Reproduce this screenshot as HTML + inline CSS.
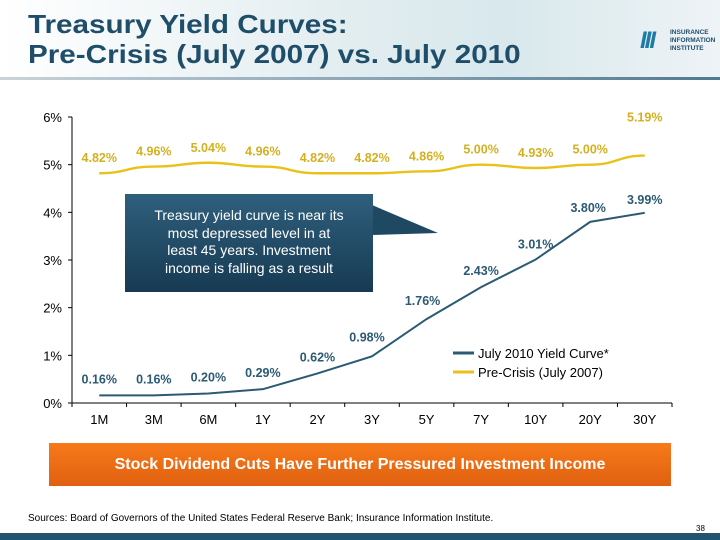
<!DOCTYPE html>
<html><head><meta charset="utf-8"><style>
body{margin:0;width:720px;height:540px;overflow:hidden;background:#fff;font-family:"Liberation Sans",sans-serif;position:relative}
.abs{position:absolute}
</style></head><body>
<div class="abs" style="left:0;top:0;width:720px;height:80px;background:linear-gradient(90deg,#fff 0%,#e4eef1 45%,#d8e8ec 70%,#eef3f6 100%)"></div>
<div class="abs" style="left:28px;top:9px;font-size:26px;font-weight:bold;color:#1f4e6b;line-height:30px;transform:scaleX(1.14);transform-origin:0 0;white-space:nowrap">Treasury Yield Curves:<br>Pre-Crisis (July 2007) vs. July 2010</div>
<div class="abs" style="left:0;top:77px;width:720px;height:3px;background:linear-gradient(90deg,#c9d3da,#4f7a92)"></div>
<div class="abs" style="left:640px;top:28px;width:76px;height:26px">
<div class="abs" style="left:0;top:1px;width:30px;height:24px;color:#1f7ba5;font-weight:bold;font-size:24px;line-height:24px;letter-spacing:-2px;font-style:italic">III</div>
<div class="abs" style="left:30px;top:1px;font-size:6.5px;font-weight:bold;color:#1f4e6b;line-height:8px">INSURANCE<br>INFORMATION<br>INSTITUTE</div></div>
<svg class="abs" style="left:0;top:0" width="720" height="540" id="chart"></svg>
<div class="abs" style="left:125px;top:194px;width:248px;height:98px;background:linear-gradient(180deg,#2f5f7d,#173a52);color:#fff;font-size:14px;text-align:center;line-height:17.5px;padding:13px 0 0;box-sizing:border-box;white-space:nowrap">Treasury yield curve is near its<br>most depressed level in at<br>least 45 years. Investment<br>income is falling as a result</div>
<div class="abs" style="left:49px;top:443px;width:622px;height:43px;background:linear-gradient(180deg,#f77a1a,#e06010);color:#fff;font-weight:bold;font-size:16px;text-align:center;line-height:43px">Stock Dividend Cuts Have Further Pressured Investment Income</div>
<div class="abs" style="left:28px;top:513px;font-size:10px;color:#000">Sources: Board of Governors of the United States Federal Reserve Bank; Insurance Information Institute.</div>
<div class="abs" style="left:696px;top:524px;font-size:8px;color:#000">38</div>
<div class="abs" style="left:0;top:533px;width:720px;height:7px;background:#1f5571"></div>
<script>
const categories=["1M","3M","6M","1Y","2Y","3Y","5Y","7Y","10Y","20Y","30Y"];
const july2010=[0.16,0.16,0.20,0.29,0.62,0.98,1.76,2.43,3.01,3.80,3.99];
const preCrisis=[4.82,4.96,5.04,4.96,4.82,4.82,4.86,5.00,4.93,5.00,5.19];
const yTicks=[0,1,2,3,4,5,6];
const svg=document.getElementById('chart');const NS='http://www.w3.org/2000/svg';
const x0=72,x1=672,y0=403,y6=117;
const bw=(x1-x0)/categories.length;
const xs=i=>x0+bw*(i+0.5);
const ys=v=>y0-(y0-y6)*v/6;
function mk(t,a,txt){const e=document.createElementNS(NS,t);for(const k in a)e.setAttribute(k,a[k]);if(txt!=null)e.textContent=txt;svg.appendChild(e);return e;}
let e=mk('line',{x1:x0,y1:y6,x2:x0,y2:y0,stroke:'#000'});

e=mk('line',{x1:x0,y1:y0,x2:x1,y2:y0,stroke:'#000'});

yTicks.forEach(t=>{mk('line',{x1:x0-4,y1:ys(t),x2:x0,y2:ys(t),stroke:'#000'});
e=mk('text',{x:x0-10,y:ys(t)+5,'text-anchor':'end','font-size':13,fill:'#000'},t+'%');
});
for(let i=0;i<=categories.length;i++)mk('line',{x1:x0+bw*i,y1:y0,x2:x0+bw*i,y2:y0+4,stroke:'#000'});
categories.forEach((c,i)=>{e=mk('text',{x:xs(i),y:y0+21,'text-anchor':'middle','font-size':13,fill:'#000'},c);
});
function path(arr){let d='';arr.forEach((v,i)=>{const px=xs(i),py=ys(v);if(!i)d='M'+px+' '+py;else{const pxp=xs(i-1),pyp=ys(arr[i-1]);const cx=(pxp+px)/2;d+=' C'+cx+' '+pyp+' '+cx+' '+py+' '+px+' '+py;}});return d;}
e=mk('path',{d:path(preCrisis),fill:'none',stroke:'#e8c21a','stroke-width':2.4});

let d2='';july2010.forEach((v,i)=>{d2+=(i?' L':'M')+xs(i)+' '+ys(v);});
e=mk('path',{d:d2,fill:'none',stroke:'#2b5a74','stroke-width':2});

preCrisis.forEach((v,i)=>{const off=(i==10)?-34:-11;e=mk('text',{x:xs(i),y:ys(v)+off,'text-anchor':'middle','font-size':12.5,'font-weight':'bold',fill:'#d4b020'},v.toFixed(2)+'%');
});
const lblOff=[[0,-12],[0,-12],[0,-12],[0,-12],[0,-12],[-5,-15],[-4,-14],[0,-12],[0,-11],[-2,-10],[0,-9]];
july2010.forEach((v,i)=>{e=mk('text',{x:xs(i)+lblOff[i][0],y:ys(v)+lblOff[i][1],'text-anchor':'middle','font-size':12.5,'font-weight':'bold',fill:'#2b5a74'},v.toFixed(2)+'%');
});
e=mk('polygon',{points:'372,205 438,233 372,235',fill:'#1f4862'});

e=mk('line',{x1:453,y1:353,x2:474,y2:353,stroke:'#2b5a74','stroke-width':3});

e=mk('text',{x:478,y:358,'font-size':13,fill:'#000'},'July 2010 Yield Curve*');

e=mk('line',{x1:453,y1:372,x2:474,y2:372,stroke:'#e8c21a','stroke-width':3});

e=mk('text',{x:478,y:377,'font-size':13,fill:'#000'},'Pre-Crisis (July 2007)');

</script>
</body></html>
